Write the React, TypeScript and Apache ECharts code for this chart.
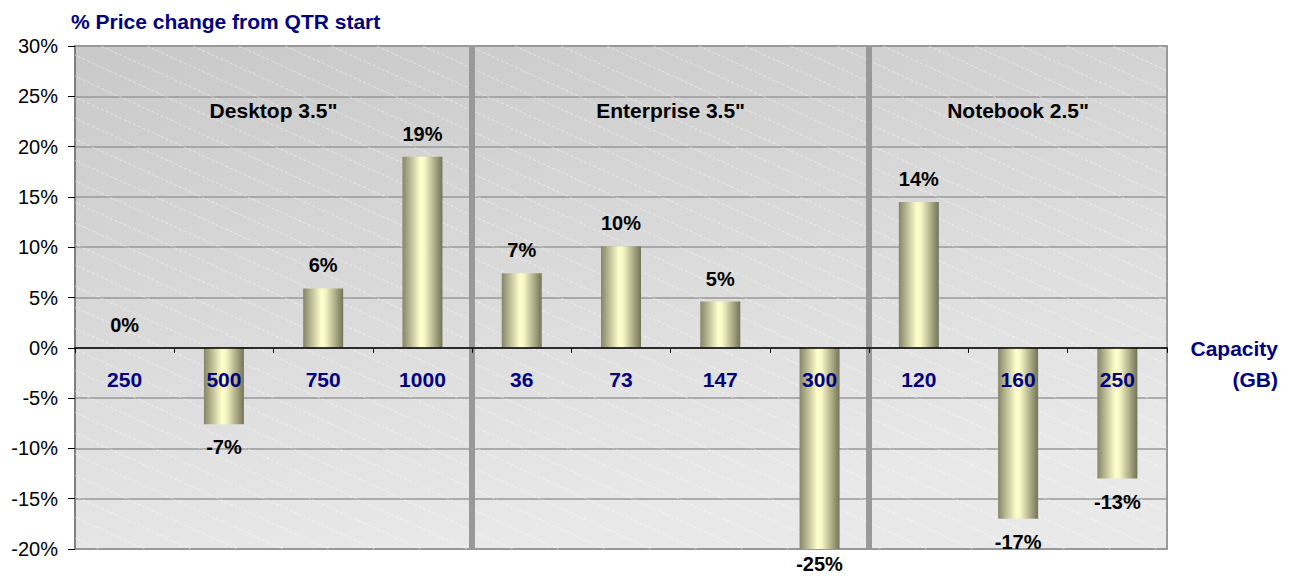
import React, { useEffect, useRef } from "react";
import * as echarts from "echarts";

const categories = ["250", "500", "750", "1000", "36", "73", "147", "300", "120", "160", "250 "];
const values = [0, -7.6, 5.9, 19.0, 7.4, 10.1, 4.6, -25, 14.5, -17.0, -13.0];
const valueLabels = ["0%", "-7%", "6%", "19%", "7%", "10%", "5%", "-25%", "14%", "-17%", "-13%"];
const groupNames = ['Desktop 3.5"', 'Enterprise 3.5"', 'Notebook 2.5"'];
const groupCenters = [2, 6, 9.5];
const groupBoundaries = [4, 8];
const yTicks = { min: -20, max: 30, interval: 5 };
const groupLabelLevel = 23.6;
const axisTitleLines = ["Capacity", "(GB)"];

const FONT = "'Liberation Sans', Arial, sans-serif";
const GRID = { left: 75, right: 122, top: 46, bottom: 30 };
const CHART_H = 579;

function makeStripePattern(): any {
  const c = document.createElement("canvas");
  c.width = 46;
  c.height = 21;
  const ctx = c.getContext("2d");
  if (ctx) {
    ctx.strokeStyle = "rgba(255,255,255,0.5)";
    ctx.lineWidth = 1;
    ctx.setLineDash([3, 2]);
    ctx.beginPath();
    ctx.moveTo(0, 0);
    ctx.lineTo(46, 21);
    ctx.stroke();
  }
  return { image: c, repeat: "repeat" };
}

export default function App() {
  const ref = useRef<HTMLDivElement>(null);
  useEffect(() => {
    if (!ref.current) return;
    const chart = echarts.init(ref.current, null, { renderer: "svg" });
    const barColor = new echarts.graphic.LinearGradient(0, 0, 1, 0, [
      { offset: 0, color: "#85856a" },
      { offset: 0.45, color: "#ffffcc" },
      { offset: 0.55, color: "#f8f8c6" },
      { offset: 1, color: "#737358" },
    ]);
    const gridH = CHART_H - GRID.top - GRID.bottom;
    const zeroOffset = (gridH * (0 - yTicks.min)) / (yTicks.max - yTicks.min);
    chart.setOption({
      animation: false,
      textStyle: { fontFamily: FONT },
      title: {
        text: "% Price change from QTR start",
        left: 66,
        top: 6,
        textStyle: { color: "#000080", fontWeight: "bold", fontSize: 21, fontFamily: FONT },
      },
      grid: {
        ...GRID,
        outerBoundsMode: "none",
        containLabel: false,
        show: true,
        borderColor: "#999999",
        borderWidth: 2,
        backgroundColor: new echarts.graphic.LinearGradient(0, 0, 0.35, 1, [
          { offset: 0, color: "#c9c9c9" },
          { offset: 1, color: "#e9e9e9" },
        ]),
      },
      xAxis: [
        {
          type: "category",
          data: categories,
          position: "bottom",
          offset: -zeroOffset,
          axisLine: { onZero: false, lineStyle: { color: "#000000", width: 1.5 } },
          axisTick: { show: true, length: 5, lineStyle: { color: "#000000" } },
          axisLabel: {
            color: "#000080",
            fontWeight: "bold",
            fontSize: 21,
            margin: 21,
            fontFamily: FONT,
            formatter: (v: string) => v.trim(),
          },
          splitLine: { show: false },
          z: 5,
        },
        {
          type: "value",
          min: 0,
          max: categories.length,
          show: false,
        },
      ],
      yAxis: {
        type: "value",
        min: yTicks.min,
        max: yTicks.max,
        interval: yTicks.interval,
        axisLine: { show: true, lineStyle: { color: "#7f7f7f", width: 2 } },
        axisTick: { show: true, length: 7, lineStyle: { color: "#000000" } },
        axisLabel: { formatter: "{value}%", color: "#000000", fontSize: 20, margin: 17, fontFamily: FONT },
        splitLine: { lineStyle: { color: "#999999", width: 1.5 } },
      },
      series: [
        {
          type: "scatter",
          xAxisIndex: 1,
          yAxisIndex: 0,
          symbolSize: 0,
          data: [],
          silent: true,
          z: 1,
          markArea: {
            silent: true,
            itemStyle: { color: makeStripePattern() },
            data: [[{ xAxis: 0, yAxis: yTicks.min }, { xAxis: categories.length, yAxis: yTicks.max }]],
          },
        },
        {
          type: "bar",
          data: values.map((v) => ({
            value: v,
            label: {
              position: v >= 0 ? "top" : "bottom",
              distance: v < yTicks.min ? 5 : 13,
            },
          })),
          barWidth: 40,
          itemStyle: { color: barColor },
          clip: true,
          label: {
            show: true,
            distance: 13,
            color: "#000000",
            fontWeight: "bold",
            fontSize: 20,
            fontFamily: FONT,
            formatter: (p: any) => valueLabels[p.dataIndex],
          },
          z: 3,
        },
        {
          type: "scatter",
          xAxisIndex: 1,
          yAxisIndex: 0,
          symbol: "circle",
          symbolSize: 1,
          silent: true,
          itemStyle: { color: "rgba(0,0,0,0)", opacity: 1 },
          data: groupCenters.map((c, i) => ({ value: [c, groupLabelLevel], name: groupNames[i] })),
          label: {
            show: true,
            position: "inside",
            formatter: (p: any) => p.name,
            color: "#000000",
            fontWeight: "bold",
            fontSize: 21,
            fontFamily: FONT,
          },
          markLine: {
            silent: true,
            symbol: "none",
            label: { show: false },
            lineStyle: { color: "#999999", width: 6, type: "solid", opacity: 1 },
            data: groupBoundaries.map((b) => ({ xAxis: b })),
          },
          z: 4,
        },
      ],
      graphic: axisTitleLines.map((t, i) => ({
        type: "text",
        right: 11,
        top: 338 + i * 31,
        style: {
          text: t,
          fill: "#000080",
          font: `bold 21px ${FONT}`,
        },
      })),
    });
    return () => chart.dispose();
  }, []);
  return <div ref={ref} style={{ width: 1289, height: 579, position: "absolute", left: 0, top: 0 }} />;
}
